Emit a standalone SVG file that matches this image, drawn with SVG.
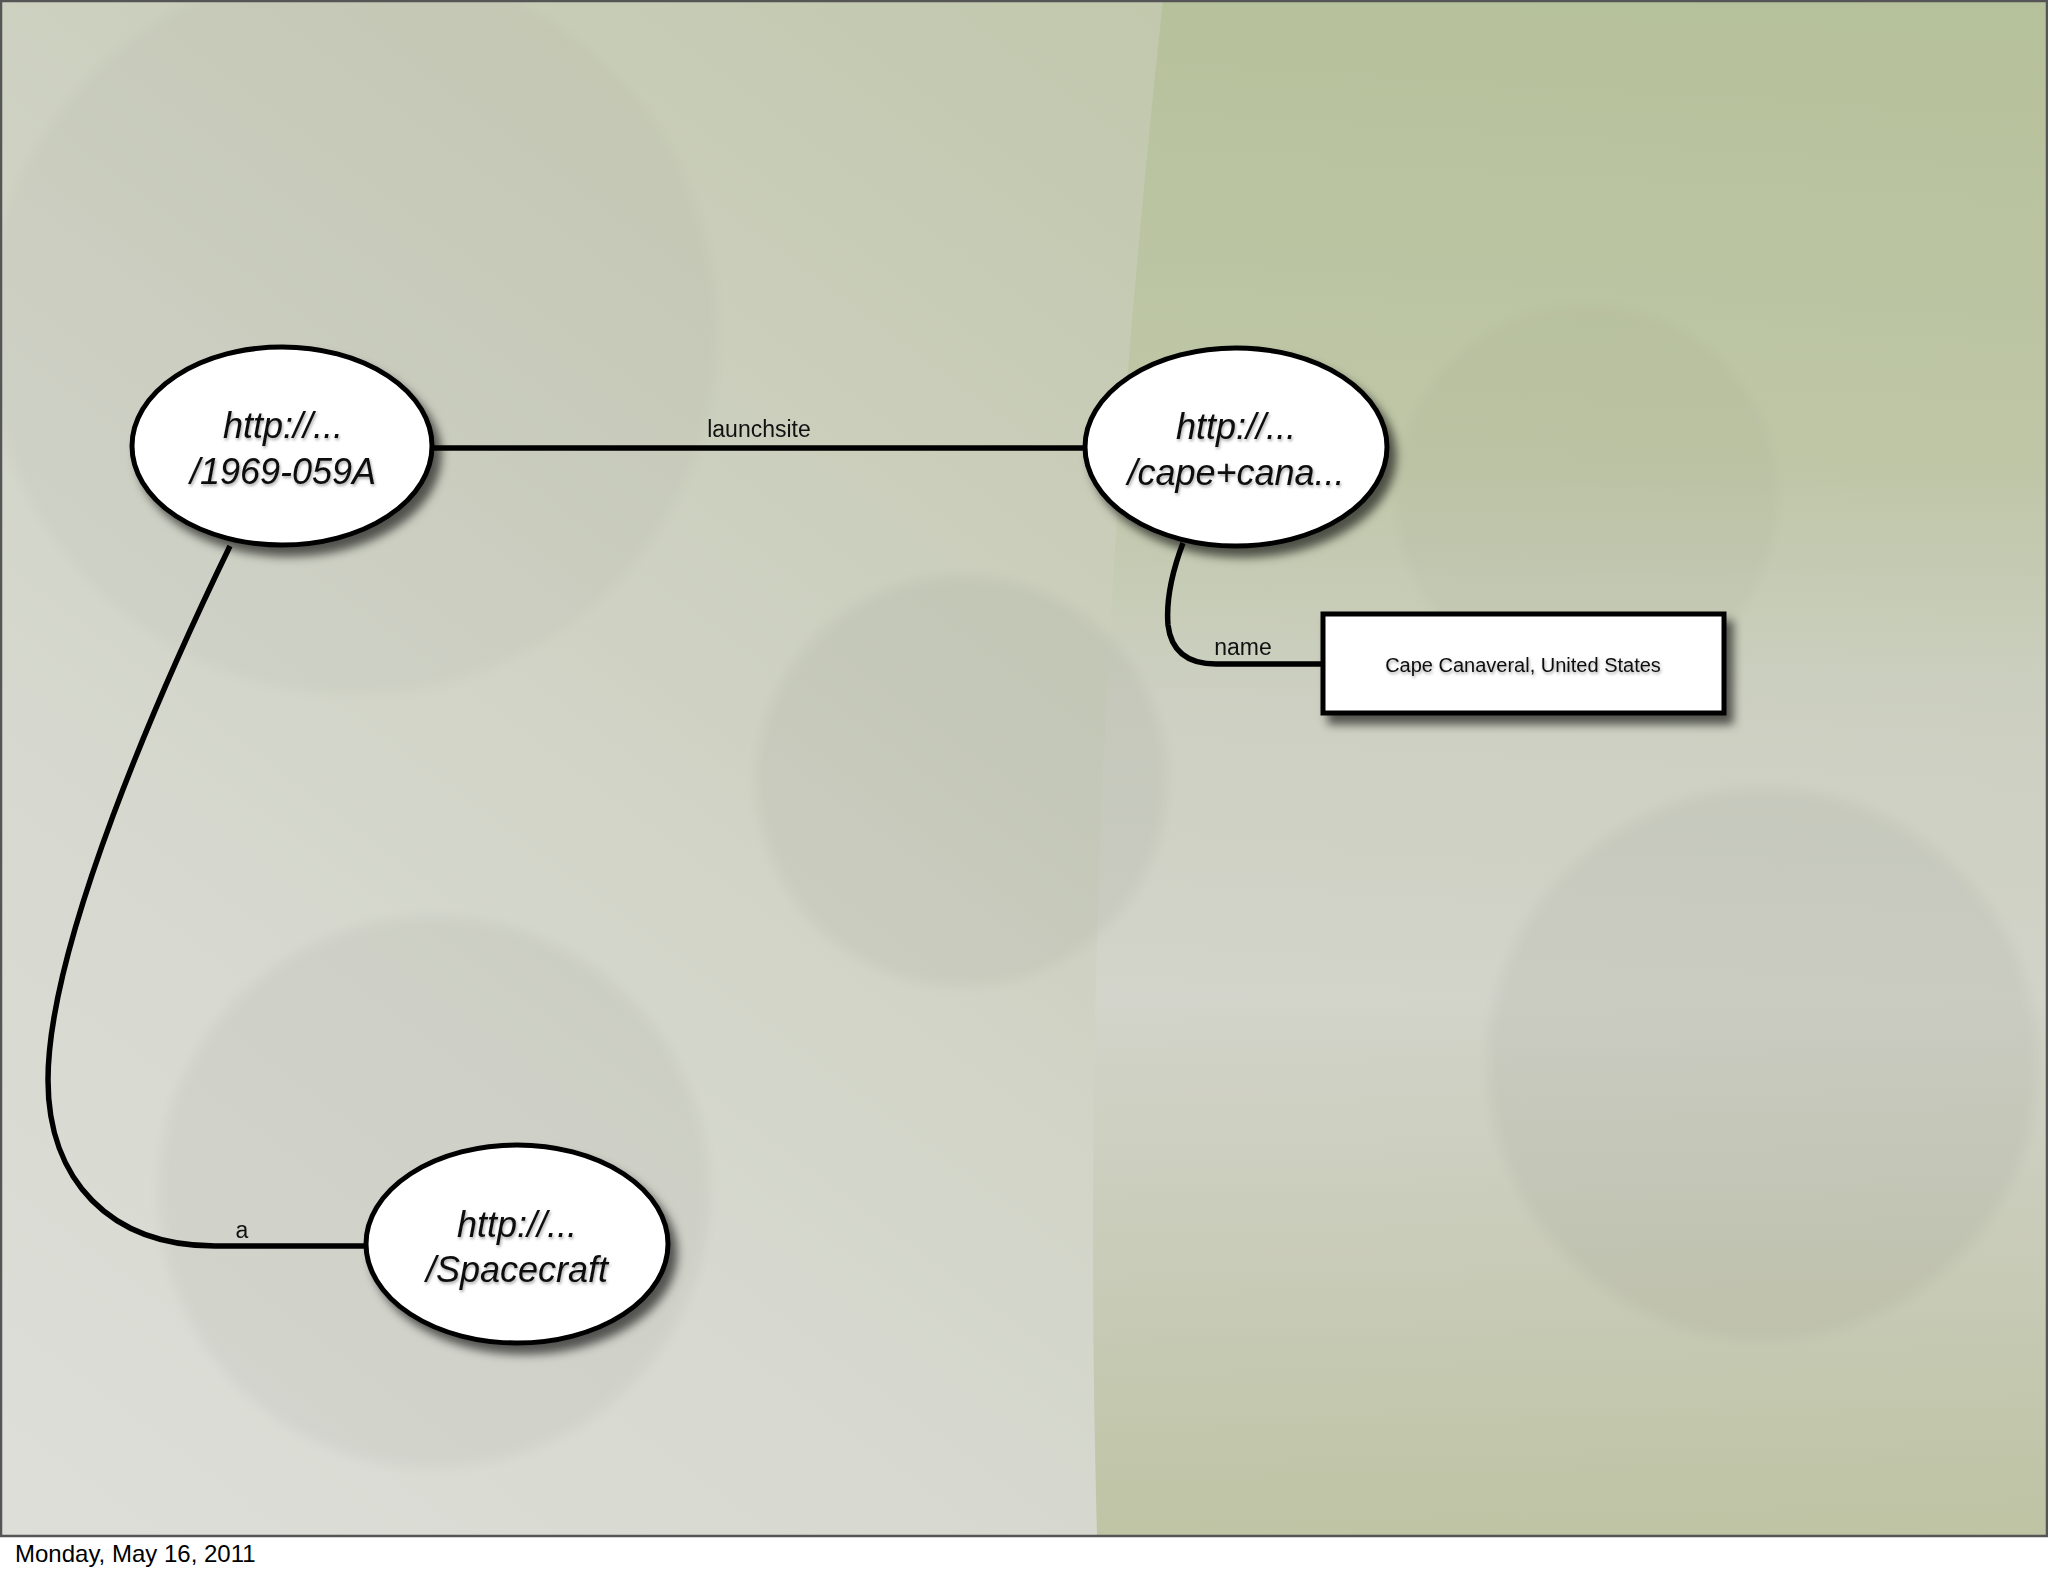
<svg xmlns="http://www.w3.org/2000/svg" width="2048" height="1576" viewBox="0 0 2048 1576">
<defs>
<linearGradient id="bg" x1="1" y1="0" x2="0" y2="1">
<stop offset="0" stop-color="#b7c29d"/>
<stop offset="0.4" stop-color="#c9cdb9"/>
<stop offset="0.75" stop-color="#d7d9d0"/>
<stop offset="1" stop-color="#ddded8"/>
</linearGradient>
<linearGradient id="rgreen" x1="0" y1="0" x2="0" y2="1">
<stop offset="0" stop-color="#b5c19a"/>
<stop offset="0.3" stop-color="#bec6a6"/>
<stop offset="0.45" stop-color="#cdd0c2"/>
<stop offset="0.65" stop-color="#d3d4cb"/>
<stop offset="0.85" stop-color="#c6c9b3"/>
<stop offset="1" stop-color="#bcc2a0"/>
</linearGradient>
<filter id="blur" x="-20%" y="-20%" width="140%" height="140%"><feGaussianBlur stdDeviation="6"/></filter>
<filter id="shadow" x="-20%" y="-20%" width="150%" height="150%">
<feDropShadow dx="7" dy="9" stdDeviation="5" flood-color="#000" flood-opacity="0.6"/>
</filter>
<filter id="tshadow" x="-10%" y="-30%" width="120%" height="170%">
<feDropShadow dx="1" dy="2" stdDeviation="1.5" flood-color="#000" flood-opacity="0.35"/>
</filter>
</defs>
<style>
.node{fill:#fff;stroke:#000;stroke-width:5;filter:url(#shadow)}
.uri{font-family:"Liberation Sans",Arial,sans-serif;font-style:italic;font-size:36px;fill:#111;text-anchor:middle;filter:url(#tshadow)}
.lit{font-family:"Liberation Sans",Arial,sans-serif;font-size:20px;fill:#111;text-anchor:middle;filter:url(#tshadow)}
.edge{fill:none;stroke:#000;stroke-width:5.5}
.elabel{font-family:"Liberation Sans",Arial,sans-serif;font-size:23px;fill:#111;text-anchor:middle}
.footer{font-family:"Liberation Sans",Arial,sans-serif;font-size:24px;fill:#000}
</style>
<rect x="0" y="0" width="2048" height="1576" fill="#fff"/>
<g id="background">
<rect x="0" y="0" width="2048" height="1536" fill="url(#bg)"/>
<path d="M1163 0 C1120 400 1080 900 1097 1536 L2048 1536 L2048 0 Z" fill="url(#rgreen)" opacity="0.9"/>
<g filter="url(#blur)">
<circle cx="353" cy="330" r="365" fill="#000" opacity="0.018"/>
<circle cx="962" cy="781" r="205" fill="#000" opacity="0.035"/>
<circle cx="434" cy="1192" r="275" fill="#000" opacity="0.035"/>
<circle cx="1763" cy="1064" r="275" fill="#000" opacity="0.035"/>
<circle cx="1587" cy="496" r="190" fill="#000" opacity="0.018"/>
</g>
<rect x="1" y="1" width="2046" height="1535" fill="none" stroke="#555" stroke-width="2.5"/>
</g>
<g id="connectors">
<path class="edge" d="M432 448 L1086 448"/>
<text class="elabel" x="759" y="437">launchsite</text>
<path class="edge" d="M1183 543 C1172 572 1166 600 1168 625 C1171 650 1186 664 1216 664 L1323 664"/>
<text class="elabel" x="1243" y="655">name</text>
<path class="edge" d="M230 546 C160 690 48 945 48 1080 C48 1180 110 1246 215 1246 L366 1246"/>
<text class="elabel" x="242" y="1238">a</text>
</g>
<g id="node-1969-059A">
<ellipse class="node" cx="282" cy="446" rx="150" ry="99"/>
<text class="uri" x="283" y="438">http://...</text>
<text class="uri" x="283" y="484">/1969-059A</text>
</g>
<g id="node-cape">
<ellipse class="node" cx="1236" cy="447" rx="151" ry="99"/>
<text class="uri" x="1236" y="439">http://...</text>
<text class="uri" x="1236" y="485">/cape+cana...</text>
</g>
<g id="node-spacecraft">
<ellipse class="node" cx="517" cy="1244" rx="151" ry="99"/>
<text class="uri" x="517" y="1237">http://...</text>
<text class="uri" x="517" y="1282">/Spacecraft</text>
</g>
<g id="node-literal">
<rect class="node" x="1323" y="614" width="401" height="99"/>
<text class="lit" x="1523" y="672">Cape Canaveral, United States</text>
</g>
<text class="footer" x="15" y="1562">Monday, May 16, 2011</text>
</svg>
